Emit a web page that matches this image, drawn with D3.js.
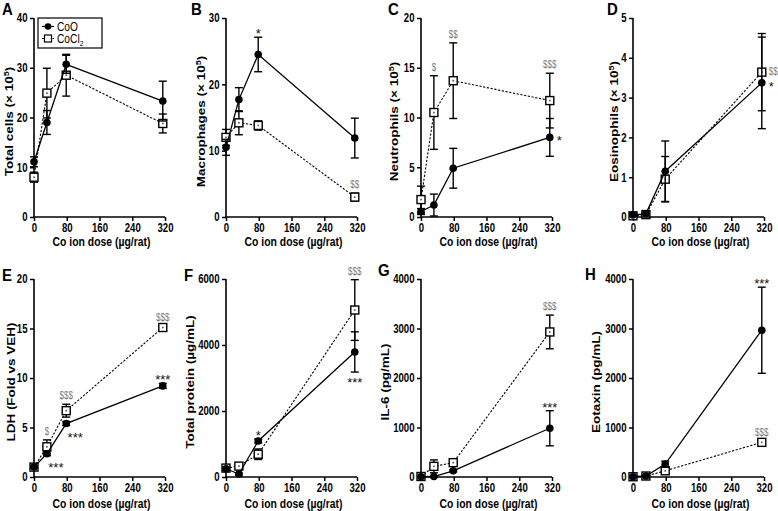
<!DOCTYPE html>
<html><head><meta charset="utf-8">
<script src="https://cdn.jsdelivr.net/npm/d3@7"></script>
<style>
html,body{margin:0;padding:0;background:#fff;}
svg text{font-family:"Liberation Sans",Arial,sans-serif;}
</style></head>
<body><svg id="chart" width="778" height="511"></svg>
<script>
// ---- data ----
const doses = [0, 31.5, 78.7, 314.6];
const xTicks = [0, 80, 160, 240, 320];
const seriesNames = ["CoO", "CoCl2"];

const totalCellsCoO = [11.1, 19.0, 30.7, 23.3];
const totalCellsCoOErr = [1.0, 2.4, 1.8, 4.0];
const totalCellsCoCl2 = [8.0, 24.9, 28.5, 18.8];
const totalCellsCoCl2Err = [1.0, 5.0, 4.2, 1.9];

const macroCoO = [10.5, 17.7, 24.5, 11.9];
const macroCoOErr = [1.2, 1.8, 2.6, 3.0];
const macroCoCl2 = [12.0, 14.2, 13.8, 3.0];
const macroCoCl2Err = [1.2, 1.8, 0.7, 0.6];

const neutroCoO = [0.55, 1.2, 4.9, 8.0];
const neutroCoOErr = [0.3, 1.1, 2.0, 1.9];
const neutroCoCl2 = [1.75, 10.5, 13.7, 11.7];
const neutroCoCl2Err = [1.35, 3.7, 3.8, 2.75];

const eosCoO = [0.05, 0.08, 1.15, 3.37];
const eosCoOErr = [0.03, 0.08, 0.76, 1.15];
const eosCoCl2 = [0.03, 0.06, 0.95, 3.64];
const eosCoCl2Err = [0.02, 0.05, 0.57, 0.97];

const ldhCoO = [1.0, 2.35, 5.4, 9.2];
const ldhCoOErr = [0.1, 0.2, 0.2, 0.25];
const ldhCoCl2 = [1.0, 3.05, 6.7, 15.1];
const ldhCoCl2Err = [0.1, 0.7, 0.65, 0.2];

const proteinCoO = [250, 90, 1090, 3790];
const proteinCoOErr = [40, 30, 60, 610];
const proteinCoCl2 = [270, 330, 690, 5060];
const proteinCoCl2Err = [40, 40, 160, 920];

const il6CoO = [5, 10, 125, 985];
const il6CoOErr = [5, 5, 20, 355];
const il6CoCl2 = [10, 215, 290, 2930];
const il6CoCl2Err = [5, 130, 40, 340];

const eotaxinCoO = [5, 20, 260, 2965];
const eotaxinCoOErr = [5, 10, 60, 870];
const eotaxinCoCl2 = [5, 20, 125, 700];
const eotaxinCoCl2Err = [5, 10, 25, 35];

const panelLetters = ["A","B","C","D","E","F","G","H"];
const yTitles = ["Total cells (× 10|5|)", "Macrophages (× 10|5|)", "Neutrophils (× 10|5|)", "Eosinophils (× 10|5|)",
                 "LDH  (Fold vs VEH)", "Total protein (µg/mL)", "IL-6 (pg/mL)", "Eotaxin (pg/mL)"];
const yMax = [40, 30, 20, 5, 20, 6000, 4000, 4000];
const yTickStep = [10, 10, 5, 1, 5, 2000, 1000, 1000];
const xTitle = "Co ion dose (µg/rat)";

// significance marks: [panel, series, doseIndex, text, placement]
const marks = [
  [1,0,2,"*","above"],[1,1,3,"$$","above"],
  [2,1,1,"$","above"],[2,1,2,"$$","above"],[2,1,3,"$$$","above"],[2,0,3,"*","right"],
  [3,1,3,"$$","right"],[3,0,3,"*","right"],
  [4,1,1,"$","above"],[4,1,2,"$$$","above"],[4,1,3,"$$$","above"],
  [4,0,1,"***","belowright"],[4,0,2,"***","belowright"],[4,0,3,"***","above"],
  [5,0,2,"*","above"],[5,1,3,"$$$","above"],[5,0,3,"***","below"],
  [6,1,3,"$$$","above"],[6,0,3,"***","above"],
  [7,0,3,"***","above"],[7,1,3,"$$$","above"]
];

const panelData = [
  [[totalCellsCoO,totalCellsCoOErr],[totalCellsCoCl2,totalCellsCoCl2Err]],
  [[macroCoO,macroCoOErr],[macroCoCl2,macroCoCl2Err]],
  [[neutroCoO,neutroCoOErr],[neutroCoCl2,neutroCoCl2Err]],
  [[eosCoO,eosCoOErr],[eosCoCl2,eosCoCl2Err]],
  [[ldhCoO,ldhCoOErr],[ldhCoCl2,ldhCoCl2Err]],
  [[proteinCoO,proteinCoOErr],[proteinCoCl2,proteinCoCl2Err]],
  [[il6CoO,il6CoOErr],[il6CoCl2,il6CoCl2Err]],
  [[eotaxinCoO,eotaxinCoOErr],[eotaxinCoCl2,eotaxinCoCl2Err]]
];

// ---- layout ----
const axisLeft = [34, 226, 421, 633, 34, 226, 421, 633];
const plotW = 131;
const rowTop = [18, 279], rowBottom = [217, 477];
const yTitleOffset = [-21, -21, -23, -15, -19, -32, -32, -33];
const letterPos = [[2,15],[191,15],[388,15],[607,15],[2,281],[184,281],[378,276],[585,280]];
const SQ = 0.8; // horizontal squeeze of the reference lettering

const svg = d3.select("#chart");

panelData.forEach((pd, p) => {
  const row = p < 4 ? 0 : 1;
  const x0 = axisLeft[p];
  const x = d3.scaleLinear().domain([0, 320]).range([x0, x0 + plotW]);
  const y = d3.scaleLinear().domain([0, yMax[p]]).range([rowBottom[row], rowTop[row]]);
  const g = svg.append("g");

  // axes
  const yTicks = d3.range(0, yMax[p] + yTickStep[p] / 2, yTickStep[p]);
  const ya = g.append("g").attr("transform", `translate(${x0},0)`)
    .call(d3.axisLeft(y).tickValues(yTicks).tickSize(4).tickPadding(2).tickFormat(d3.format("d")));
  const xa = g.append("g").attr("transform", `translate(0,${rowBottom[row]})`)
    .call(d3.axisBottom(x).tickValues(xTicks).tickSize(4).tickPadding(2));
  [ya, xa].forEach(a => {
    a.select(".domain").attr("stroke", "#000").attr("stroke-width", 1.6);
    a.selectAll(".tick line").attr("stroke", "#000").attr("stroke-width", 1.5);
    a.selectAll(".tick text").attr("fill", "#000").attr("font-size", 12).attr("font-weight", "bold");
  });
  ya.selectAll(".tick text").attr("x", -6.5 / SQ).attr("transform", `scale(${SQ},1)`);
  xa.selectAll(".tick text").attr("transform", `scale(${SQ},1)`);
  xa.select(".domain").attr("d", `M${x0},0H${x0 + plotW}`);
  ya.select(".domain").attr("d", `M0,${rowBottom[row]}V${rowTop[row]}`);

  // y title
  const parts = yTitles[p].split("|");
  const yt = g.append("text")
    .attr("transform", `translate(${x0 + yTitleOffset[p]},${(rowTop[row] + rowBottom[row]) / 2 + 4}) rotate(-90) scale(1,${SQ})`)
    .attr("text-anchor", "middle").attr("font-size", 13.5).attr("font-weight", "bold").attr("fill", "#000");
  yt.append("tspan").text(parts[0]);
  if (parts.length > 1) {
    yt.append("tspan").attr("dy", -5.5).attr("font-size", 9).text(parts[1]);
    yt.append("tspan").attr("dy", 5.5).text(parts[2]);
  }
  // x title
  g.append("text")
    .attr("transform", `translate(${x0 + plotW / 2 + 2},${rowBottom[row] + (row === 0 ? 29 : 31)}) scale(${SQ},1)`)
    .attr("text-anchor", "middle").attr("font-size", 13).attr("font-weight", "bold").attr("fill", "#000")
    .text(xTitle);
  // panel letter
  g.append("text").attr("transform", `translate(${letterPos[p][0]},${letterPos[p][1]}) scale(0.88,1)`)
    .attr("font-size", 17).attr("font-weight", "bold").attr("fill", "#000").text(panelLetters[p]);

  // series: draw CoCl2 first, CoO on top
  [1, 0].forEach(s => {
    const vals = pd[s][0], errs = pd[s][1];
    const pts = doses.map((d, i) => ({x: x(d), y: y(vals[i]), lo: y(Math.max(0, vals[i] - errs[i])), hi: y(vals[i] + errs[i])}));
    // error bars
    pts.forEach(pt => {
      g.append("line").attr("x1", pt.x).attr("x2", pt.x).attr("y1", pt.lo).attr("y2", pt.hi)
        .attr("stroke", "#000").attr("stroke-width", 1.4);
      [pt.lo, pt.hi].forEach(yy => g.append("line").attr("x1", pt.x - 4).attr("x2", pt.x + 4)
        .attr("y1", yy).attr("y2", yy).attr("stroke", "#000").attr("stroke-width", 1.4));
    });
    // line
    g.append("path").datum(pts)
      .attr("d", d3.line().x(d => d.x).y(d => d.y))
      .attr("fill", "none").attr("stroke", "#000")
      .attr("stroke-width", s === 0 ? 1.3 : 1.1)
      .attr("stroke-dasharray", s === 0 ? null : "2.2,1.6");
    // markers
    pts.forEach(pt => {
      if (s === 0) {
        g.append("circle").attr("cx", pt.x).attr("cy", pt.y).attr("r", 3.8).attr("fill", "#000");
      } else {
        g.append("rect").attr("x", pt.x - 4).attr("y", pt.y - 4).attr("width", 8).attr("height", 8)
          .attr("fill", "#fff").attr("stroke", "#000").attr("stroke-width", 1.4);
        g.append("rect").attr("x", pt.x - 0.8).attr("y", pt.y - 0.8).attr("width", 1.6).attr("height", 1.6)
          .attr("fill", "#555");
      }
    });
  });

  // significance marks
  marks.filter(m => m[0] === p).forEach(m => {
    const [, s, i, txt, place] = m;
    const v = pd[s][0][i], e = pd[s][1][i];
    const px = x(doses[i]);
    const isStar = txt[0] === "*";
    const t = g.append("text").attr("fill", isStar ? "#111" : "#7a7a7a")
      .attr("font-size", isStar ? 13 : 10)
      .text(txt);
    let tx = px, ty;
    if (place === "above") {
      ty = y(v + e) + (isStar ? 1 : -5);
      t.attr("text-anchor", "middle");
    } else if (place === "below") {
      ty = y(Math.max(0, v - e)) + 15;
      t.attr("text-anchor", "middle");
    } else if (place === "right") {
      tx = px + 7; ty = y(v) + (isStar ? 8 : 3);
      t.attr("text-anchor", "start");
    } else { // belowright
      tx = px + 9; ty = y(v) + 18;
      t.attr("text-anchor", "middle");
    }
    t.attr("transform", `translate(${tx},${ty}) scale(${isStar ? 1 : SQ},1)`);
  });

  // legend in panel A
  if (p === 0) {
    const lg = g.append("g");
    lg.append("rect").attr("x", 38).attr("y", 18).attr("width", 64).attr("height", 30)
      .attr("fill", "#fff").attr("stroke", "#000").attr("stroke-width", 1.2);
    const items = [[26.5, 0], [38.5, 1]];
    items.forEach(([yy, s]) => {
      lg.append("line").attr("x1", 42).attr("x2", 54).attr("y1", yy).attr("y2", yy)
        .attr("stroke", "#000").attr("stroke-width", 1.2).attr("stroke-dasharray", s === 0 ? null : "2,1.5");
      if (s === 0) lg.append("circle").attr("cx", 48).attr("cy", yy).attr("r", 3.3).attr("fill", "#000");
      else lg.append("rect").attr("x", 44.5).attr("y", yy - 3.5).attr("width", 7).attr("height", 7)
        .attr("fill", "#fff").attr("stroke", "#000").attr("stroke-width", 1.2);
      const tt = lg.append("text").attr("transform", `translate(57,${yy + 4.5}) scale(0.85,1)`)
        .attr("font-size", 12).attr("fill", "#000");
      if (s === 0) tt.text(seriesNames[0]);
      else { tt.append("tspan").text("CoCl"); tt.append("tspan").attr("font-size", 8).attr("dy", 2.5).text("2"); }
    });
  }
});
</script></body></html>
